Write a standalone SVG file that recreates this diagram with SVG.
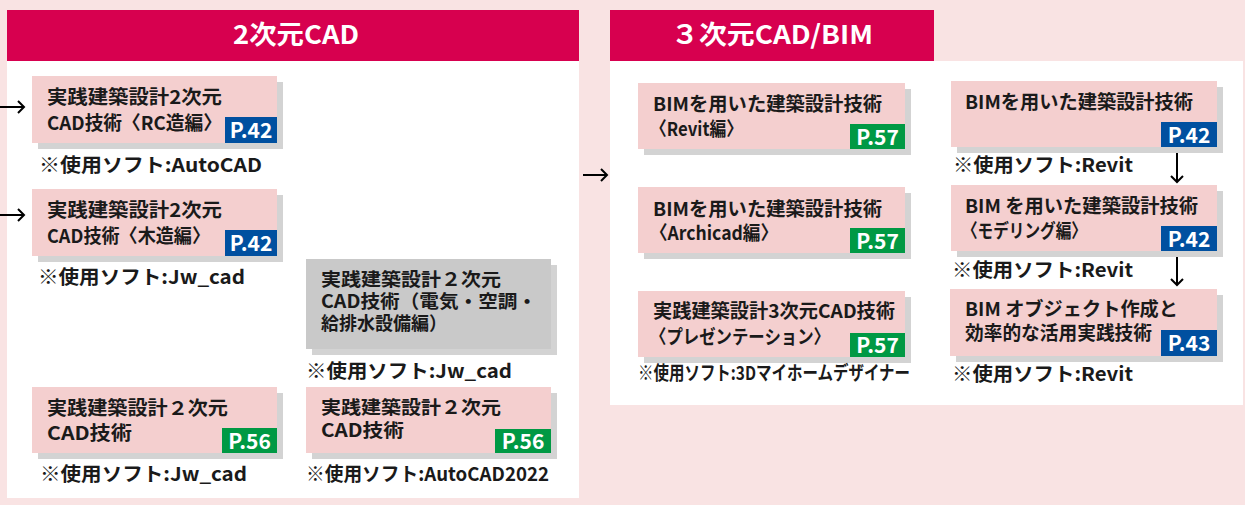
<svg xmlns="http://www.w3.org/2000/svg" width="1245" height="505" viewBox="0 0 1245 505">
<defs>
<style>
.bg{fill:#f9e3e3}
.panel{fill:#ffffff}
.hdr{fill:#d7004f}
.hdrt{fill:#ffffff;font-family:"Noto Sans CJK JP","Noto Sans",sans-serif;font-weight:bold;font-size:26px;text-anchor:middle}
.box{fill:#f4cfcf}
.gbox{fill:#c9c9c9}
.sh{fill:#d3d3d3}
.t{fill:#1a1a1a;font-family:"Noto Sans CJK JP","Noto Sans",sans-serif;font-weight:bold;font-size:19px}
.ts{font-size:18.5px}
.cap{fill:#1a1a1a;font-family:"Noto Sans CJK JP","Noto Sans",sans-serif;font-weight:bold;font-size:19px}
.bl{fill:#0050a0}
.gr{fill:#009944}
.bt{fill:#ffffff;font-family:"Noto Sans CJK JP","Noto Sans",sans-serif;font-weight:bold;font-size:21px;text-anchor:middle}
.arr{stroke:#000;stroke-width:2;fill:none;marker-end:url(#ah)}
</style>
<marker id="ah" markerUnits="userSpaceOnUse" markerWidth="14" markerHeight="14" refX="7" refY="7" orient="auto">
<path d="M1,1 L7,7 L1,13" fill="none" stroke="#000" stroke-width="2"/>
</marker>
</defs>
<rect class="bg" x="0" y="0" width="1245" height="505"/>
<g id="panel-2d">
<rect class="panel" x="7" y="10" width="572" height="488"/>
<rect class="hdr" x="7" y="10" width="572" height="51"/>
<text class="hdrt" x="296" y="44" textLength="126" lengthAdjust="spacingAndGlyphs">2次元CAD</text>
</g>
<g id="panel-3d">
<rect class="panel" x="610" y="61" width="633" height="344"/>
<rect class="hdr" x="610" y="10" width="324" height="51"/>
<text class="hdrt" x="772" y="44" textLength="202" lengthAdjust="spacingAndGlyphs">３次元CAD/BIM</text>
</g>
<g id="connectors">
<line class="arr" x1="0" y1="107" x2="24" y2="107"/>
<line class="arr" x1="0" y1="215" x2="24" y2="215"/>
<line class="arr" x1="583" y1="175" x2="607" y2="175"/>
<line class="arr" x1="1177" y1="147" x2="1177" y2="182"/>
<line class="arr" x1="1177" y1="251" x2="1177" y2="285"/>
</g>
<g id="node-rc">
<rect class="sh" x="38" y="82" width="245" height="67"/>
<rect class="box" x="32" y="76" width="245" height="67"/>
<text class="t" x="47" y="104" textLength="175" lengthAdjust="spacingAndGlyphs">実践建築設計2次元</text>
<text class="t" x="47" y="130" textLength="175" lengthAdjust="spacingAndGlyphs">CAD技術〈RC造編〉</text>
<rect class="bl" x="225" y="117" width="52" height="26"/>
<text class="bt" x="251" y="138">P.42</text>
<text class="cap" x="39" y="172" textLength="223" lengthAdjust="spacingAndGlyphs">※使用ソフト:AutoCAD</text>
</g>
<g id="node-wood">
<rect class="sh" x="38" y="195" width="245" height="67"/>
<rect class="box" x="32" y="189" width="245" height="67"/>
<text class="t" x="47" y="217" textLength="175" lengthAdjust="spacingAndGlyphs">実践建築設計2次元</text>
<text class="t" x="47" y="243" textLength="163" lengthAdjust="spacingAndGlyphs">CAD技術〈木造編〉</text>
<rect class="bl" x="225" y="230" width="52" height="26"/>
<text class="bt" x="251" y="251">P.42</text>
<text class="cap" x="38" y="284" textLength="207" lengthAdjust="spacingAndGlyphs">※使用ソフト:Jw_cad</text>
</g>
<g id="node-2d-jw">
<rect class="sh" x="38" y="393" width="245" height="66"/>
<rect class="box" x="32" y="387" width="245" height="66"/>
<text class="t" x="47" y="415" textLength="181" lengthAdjust="spacingAndGlyphs">実践建築設計２次元</text>
<text class="t" x="47" y="440" textLength="85" lengthAdjust="spacingAndGlyphs">CAD技術</text>
<rect class="gr" x="222" y="428" width="55" height="25"/>
<text class="bt" x="249.5" y="449">P.56</text>
<text class="cap" x="40" y="481" textLength="207" lengthAdjust="spacingAndGlyphs">※使用ソフト:Jw_cad</text>
</g>
<g id="node-elec">
<rect class="sh" x="312" y="265" width="245" height="90"/>
<rect class="gbox" x="306" y="259" width="245" height="90"/>
<text class="t ts" x="321" y="286" textLength="180" lengthAdjust="spacingAndGlyphs">実践建築設計２次元</text>
<text class="t ts" x="321" y="308" textLength="216" lengthAdjust="spacingAndGlyphs">CAD技術（電気・空調・</text>
<text class="t ts" x="321" y="330" textLength="126" lengthAdjust="spacingAndGlyphs">給排水設備編）</text>
<text class="cap" x="306" y="378" textLength="206" lengthAdjust="spacingAndGlyphs">※使用ソフト:Jw_cad</text>
</g>
<g id="node-2d-acad">
<rect class="sh" x="312" y="393" width="245" height="66"/>
<rect class="box" x="306" y="387" width="245" height="66"/>
<text class="t ts" x="321" y="414" textLength="180" lengthAdjust="spacingAndGlyphs">実践建築設計２次元</text>
<text class="t ts" x="321" y="437" textLength="83" lengthAdjust="spacingAndGlyphs">CAD技術</text>
<rect class="gr" x="495" y="429" width="56" height="24"/>
<text class="bt" x="523" y="449">P.56</text>
<text class="cap" x="306" y="481" textLength="243" lengthAdjust="spacingAndGlyphs">※使用ソフト:AutoCAD2022</text>
</g>
<g id="node-revit">
<rect class="sh" x="644" y="89" width="267" height="66"/>
<rect class="box" x="638" y="83" width="267" height="66"/>
<text class="t" x="653" y="111" textLength="229" lengthAdjust="spacingAndGlyphs">BIMを用いた建築設計技術</text>
<text class="t" x="650" y="136" textLength="93" lengthAdjust="spacingAndGlyphs">〈Revit編〉</text>
<rect class="gr" x="850" y="124" width="55" height="25"/>
<text class="bt" x="877.5" y="145">P.57</text>
</g>
<g id="node-archicad">
<rect class="sh" x="644" y="193" width="267" height="66"/>
<rect class="box" x="638" y="187" width="267" height="66"/>
<text class="t" x="653" y="216" textLength="229" lengthAdjust="spacingAndGlyphs">BIMを用いた建築設計技術</text>
<text class="t" x="650" y="240" textLength="128" lengthAdjust="spacingAndGlyphs">〈Archicad編〉</text>
<rect class="gr" x="850" y="228" width="55" height="25"/>
<text class="bt" x="877.5" y="249">P.57</text>
</g>
<g id="node-present">
<rect class="sh" x="644" y="297" width="267" height="66"/>
<rect class="box" x="638" y="291" width="267" height="66"/>
<text class="t" x="653" y="318" textLength="242" lengthAdjust="spacingAndGlyphs">実践建築設計3次元CAD技術</text>
<text class="t" x="650" y="344" textLength="180" lengthAdjust="spacingAndGlyphs">〈プレゼンテーション〉</text>
<rect class="gr" x="850" y="333" width="55" height="24"/>
<text class="bt" x="877.5" y="353">P.57</text>
<text class="cap" x="638" y="380" textLength="272" lengthAdjust="spacingAndGlyphs">※使用ソフト:3Dマイホームデザイナー</text>
</g>
<g id="node-bim">
<rect class="sh" x="957" y="87" width="266" height="66"/>
<rect class="box" x="951" y="81" width="266" height="66"/>
<text class="t" x="965" y="109" textLength="228" lengthAdjust="spacingAndGlyphs">BIMを用いた建築設計技術</text>
<rect class="bl" x="1161" y="122" width="56" height="25"/>
<text class="bt" x="1189" y="143">P.42</text>
<text class="cap" x="953" y="172" textLength="180" lengthAdjust="spacingAndGlyphs">※使用ソフト:Revit</text>
</g>
<g id="node-modeling">
<rect class="sh" x="957" y="191" width="266" height="66"/>
<rect class="box" x="951" y="185" width="266" height="66"/>
<text class="t" x="965" y="213" textLength="233" lengthAdjust="spacingAndGlyphs">BIM を用いた建築設計技術</text>
<text class="t" x="962" y="238" textLength="125" lengthAdjust="spacingAndGlyphs">〈モデリング編〉</text>
<rect class="bl" x="1161" y="226" width="56" height="25"/>
<text class="bt" x="1189" y="247">P.42</text>
<text class="cap" x="952" y="277" textLength="181" lengthAdjust="spacingAndGlyphs">※使用ソフト:Revit</text>
</g>
<g id="node-object">
<rect class="sh" x="956" y="295" width="267" height="67"/>
<rect class="box" x="950" y="289" width="267" height="67"/>
<text class="t" x="965" y="316" textLength="213" lengthAdjust="spacingAndGlyphs">BIM オブジェクト作成と</text>
<text class="t" x="965" y="340" textLength="187" lengthAdjust="spacingAndGlyphs">効率的な活用実践技術</text>
<rect class="bl" x="1161" y="330" width="56" height="26"/>
<text class="bt" x="1189" y="351">P.43</text>
<text class="cap" x="952" y="381" textLength="181" lengthAdjust="spacingAndGlyphs">※使用ソフト:Revit</text>
</g>
</svg>
